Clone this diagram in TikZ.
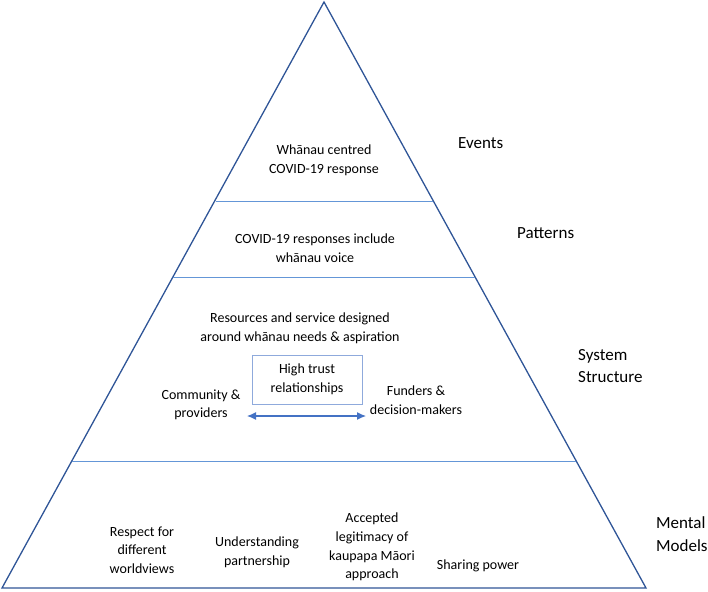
\documentclass[tikz,border=0pt]{standalone}
\usepackage{fontspec}
\setmainfont{Carlito}
\definecolor{edgeblue}{RGB}{47, 85, 151}
\definecolor{layerblue}{RGB}{100, 150, 215}
\definecolor{boxblue}{RGB}{143, 170, 220}
\definecolor{arrowblue}{RGB}{68, 114, 196}
\usetikzlibrary{arrows.meta}

\begin{document}
\begin{tikzpicture}[x=1pt, y=-1pt,
    inner/.style={align=center, inner sep=0pt, font=\fontsize{14}{18.6}\selectfont},
    level/.style={align=left, anchor=west, inner sep=0pt, font=\fontsize{17}{22.5}\selectfont}]
        \useasboundingbox (0,0) rectangle (708,591);
        % pyramid and its layers
        \draw[edgeblue, line width=1.3pt, line join=miter] (324,2) -- (646,588) -- (2,588) -- cycle;
        \draw[layerblue, line width=0.9pt] (215.5,201) -- (432.5,201);
        \draw[layerblue, line width=0.9pt] (173,277) -- (475,277);
        \draw[layerblue, line width=0.9pt] (72,461) -- (576,461);
        % level names
        \node[level] (events) at (458,143) {Events};
        \node[level] (patterns) at (517,233) {Patterns};
        \node[level] (system) at (578,366) {System\\Structure};
        \node[level] (mental) at (656,534) {Mental\\Models};
        % texts inside the pyramid
        \node[inner] (centred) at (324,160) {Whānau centred\\COVID-19 response};
        \node[inner] (voice) at (315,248) {COVID-19 responses include\\whānau voice};
        \node[inner] (resources) at (300,328) {Resources and service designed\\around whānau needs \& aspiration};
        \node[inner, draw=boxblue, line width=0.9pt, minimum width=110pt, minimum height=49pt] (trust) at (307,379.5) {High trust\\relationships};
        \node[inner] (community) at (201,405) {Community \&\\providers};
        \node[inner] (funders) at (416,400) {Funders \&\\decision-makers};
        \coordinate (arrowL) at (247,416);
        \coordinate (arrowR) at (366,416);
        \draw[arrowblue, line width=1.2pt, {Latex[length=9pt,width=8pt]}-{Latex[length=9pt,width=8pt]}] (arrowL) -- (arrowR);
        \node[inner] (respect) at (142,550) {Respect for\\different\\worldviews};
        \node[inner] (partner) at (257,552) {Understanding\\partnership};
        \node[inner] (kaupapa) at (372,547) {Accepted\\legitimacy of\\kaupapa Māori\\approach};
        \node[inner] (power) at (478,566) {Sharing power};
      \end{tikzpicture}
\end{document}
